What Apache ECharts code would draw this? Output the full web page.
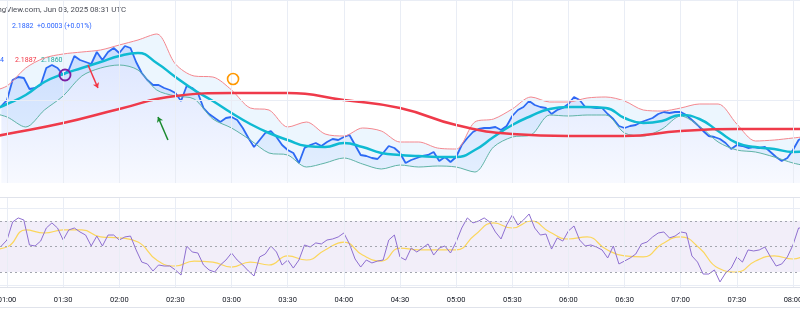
<!DOCTYPE html>
<html><head><meta charset="utf-8">
<script src="https://cdn.jsdelivr.net/npm/echarts@6/dist/echarts.min.js"></script>
<style>html,body{margin:0;padding:0;background:#fff;}#c{width:800px;height:330px;}</style>
</head><body><div id="c"></div>
<script>
// ---- data (minutes after 00:00 UTC, Jun 03 2025) ----
const priceStart = 57, priceStep = 3;
const price = [2.1894,2.1900,2.1920,2.1923,2.1922,2.1911,2.1912,2.1915,2.1932,2.1935,
 2.1932,2.1925,2.1930,2.1944,2.1940,2.1938,2.1936,2.1948,2.1940,2.1948,
 2.1952,2.1947,2.1954,2.1952,2.1938,2.1927,2.1920,2.1915,2.1915,2.1912,
 2.1910,2.1907,2.1899,2.1914,2.1912,2.1907,2.1892,2.1886,2.1882,2.1878,
 2.1882,2.1883,2.1880,2.1872,2.1862,2.1853,2.1860,2.1867,2.1869,2.1863,
 2.1855,2.1850,2.1847,2.1837,2.1852,2.1855,2.1857,2.1854,2.1858,2.1861,
 2.1860,2.1863,2.1865,2.1855,2.1845,2.1844,2.1842,2.1841,2.1847,2.1854,
 2.1852,2.1847,2.1837,2.1840,2.1842,2.1844,2.1845,2.1848,2.1839,2.1843,
 2.1838,2.1843,2.1855,2.1862,2.1868,2.1871,2.1872,2.1872,2.1873,2.1870,
 2.1874,2.1884,2.1890,2.1893,2.1899,2.1895,2.1893,2.1892,2.1886,2.1890,
 2.1892,2.1896,2.1903,2.1900,2.1893,2.1893,2.1892,2.1892,2.1886,2.1881,
 2.1874,2.1872,2.1874,2.1875,2.1878,2.1880,2.1882,2.1886,2.1888,2.1887,
 2.1888,2.1888,2.1885,2.1880,2.1875,2.1869,2.1864,2.1863,2.1861,2.1857,
 2.1851,2.1855,2.1854,2.1852,2.1853,2.1852,2.1853,2.1848,2.1843,2.1839,
 2.1842,2.1850,2.1860,2.1863];
const rsi = [50.4,55.1,69.2,72.4,70.8,51.2,50.4,54.3,64.5,68.5,
 64.5,55.1,63.0,64.5,61.4,59.0,50.4,58.2,50.4,59.0,
 59.0,55.1,57.5,58.2,47.3,37.8,36.3,30.8,35.5,34.7,
 34.7,31.6,27.6,50.4,45.7,44.9,35.5,31.6,30.0,35.5,
 39.4,44.9,39.4,35.5,30.8,26.9,41.8,44.1,50.4,45.7,
 35.5,39.4,33.1,39.4,51.2,49.6,52.8,52.0,55.1,55.9,
 57.5,60.6,52.0,40.2,33.9,39.4,37.1,38.6,39.4,55.1,
 59.0,41.8,39.4,48.8,45.7,48.8,52.0,43.3,48.8,50.4,
 44.9,53.5,64.5,72.4,68.5,70.0,72.4,69.2,61.4,55.9,
 66.9,74.7,66.9,70.8,75.5,64.5,59.0,59.8,48.0,56.7,
 54.3,62.2,66.1,55.1,50.4,51.2,49.6,47.3,41.0,50.4,
 36.3,38.6,41.0,44.1,52.0,53.5,57.5,60.6,61.4,56.7,
 58.2,61.4,60.6,42.6,37.8,28.4,28.4,31.6,22.2,29.2,
 33.1,41.8,37.8,47.3,46.5,47.3,49.6,41.8,34.7,36.3,
 41.8,51.2,64.5,64.5];

const bandStart = 50, bandStep = 10;
const basis = [2.1888,2.1896,2.1905,2.1918,2.1926,2.1932,2.1938,2.1944,2.1947,2.1937,
 2.1923,2.1910,2.1899,2.1887,2.1876,2.1867,2.1860,2.1854,2.1853,2.1857,
 2.1853,2.1847,2.1845,2.1844,2.1843,2.1843,2.1850,2.1863,2.1875,2.1884,
 2.1891,2.1893,2.1893,2.1892,2.1882,2.1877,2.1879,2.1885,2.1881,2.1869,
 2.1857,2.1853,2.1851,2.1848,2.1849];
const upper = [2.1908,2.1914,2.1932,2.1942,2.1946,2.1948,2.1950,2.1955,2.1960,2.1966,
 2.1936,2.1924,2.1923,2.1910,2.1892,2.1890,2.1873,2.1878,2.1866,2.1864,
 2.1872,2.1869,2.1858,2.1858,2.1852,2.1851,2.1878,2.1881,2.1891,2.1903,
 2.1898,2.1898,2.1902,2.1903,2.1899,2.1890,2.1889,2.1892,2.1896,2.1896,
 2.1876,2.1859,2.1860,2.1862,2.1864];
const lower = [2.1888,2.1883,2.1873,2.1890,2.1904,2.1924,2.1932,2.1935,2.1930,2.1910,
 2.1904,2.1901,2.1881,2.1872,2.1860,2.1847,2.1845,2.1833,2.1837,2.1842,
 2.1836,2.1831,2.1835,2.1833,2.1834,2.1833,2.1828,2.1853,2.1863,2.1865,
 2.1885,2.1884,2.1885,2.1885,2.1867,2.1864,2.1871,2.1884,2.1874,2.1858,
 2.1850,2.1848,2.1843,2.1837,2.1833];
const rsiMA = [47.3,49.6,63.0,60.6,63.0,63.0,57.5,56.7,53.5,39.4,
 34.7,38.6,37.8,33.9,37.8,35.5,42.6,39.4,47.3,53.5,
 43.3,38.6,48.8,47.3,47.3,47.3,59.0,68.5,64.5,70.0,
 61.4,55.9,57.5,48.0,42.6,41.8,52.0,57.5,48.8,33.1,
 30.0,38.6,42.6,40.2,47.3];

const maStart = 30, maStep = 30;
const longMA = [2.1855,2.1866,2.1877,2.1891,2.1904,2.1907,2.1907,2.1900,2.1892,2.1875,
 2.1866,2.1864,2.1864,2.1869,2.1871,2.1871,2.1871];

const tickMinutes = [60,90,120,150,180,210,240,270,300,330,360,390,420,450,480];
const priceGridLevels = [2.1986, 2.1935, 2.1885, 2.1835];
const rsiLevels = [70, 50, 30];
const rsiGridLevels = [80, 20];

// drawings on the chart: [minute, price]
const redArrow = [[103.3, 2.1935], [108.6, 2.1912]];
const greenArrow = [[146.0, 2.1860], [140.7, 2.1883]];
const blueTrend = [[54.7, 2.18905], [63.2, 2.1904]];
const purpleCircle = [91.0, 2.1925];
const orangeCircle = [180.8, 2.1921];

// ---- build ----
const BASE = Date.UTC(2025, 5, 3);
const T = m => BASE + m * 60000;
const mMin = 56.26, mMax = 483.76;
const pad = n => (n < 10 ? '0' : '') + n;
const fmt = v => { const m = Math.round(v); return pad(Math.floor(m / 60)) + ':' + pad(m % 60); };

const priceData = price.map((v, i) => [T(priceStart + i * priceStep), v]);
const rsiData = rsi.map((v, i) => [priceStart + i * priceStep, v]);
const bT = i => T(bandStart + i * bandStep);
const basisData = basis.map((v, i) => [bT(i), v]);
const lowerData = lower.map((v, i) => [bT(i), v]);
const widthData = upper.map((v, i) => [bT(i), +(v - lower[i]).toFixed(5)]);
const rsiMAData = rsiMA.map((v, i) => [bandStart + i * bandStep, v]);
const maData = longMA.map((v, i) => [T(maStart + i * maStep), v]);

const gridLineStyle = { color: '#e9edf5', width: 1, type: 'solid' };
const FONT = 'Roboto, sans-serif';

const chart = echarts.init(document.getElementById('c'));
chart.setOption({
  animation: false,
  useUTC: true,
  backgroundColor: '#ffffff',
  grid: [
    { left: 0, right: 0, top: 0, height: 183, outerBoundsMode: 'none', containLabel: false },
    { left: 0, right: 0, top: 198, height: 89, outerBoundsMode: 'none', containLabel: false }
  ],
  xAxis: [
    { type: 'time', gridIndex: 0, min: T(mMin), max: T(mMax), show: false },
    { type: 'value', gridIndex: 1, min: mMin, max: mMax,
      axisLine: { show: true, lineStyle: { color: '#e0e3eb' } },
      axisTick: { show: false }, splitLine: { show: false },
      axisLabel: { customValues: tickMinutes, formatter: fmt, fontSize: 7.5, color: '#131722',
        fontFamily: FONT, margin: 9, hideOverlap: false } }
  ],
  yAxis: [
    { type: 'value', gridIndex: 0, min: 2.1817, max: 2.2000, show: false },
    { type: 'value', gridIndex: 1, min: 18.24, max: 88.04, show: false }
  ],
  series: [
    { name: 'price', type: 'line', xAxisIndex: 0, yAxisIndex: 0, data: priceData,
      symbol: 'none', lineStyle: { color: '#2f66f5', width: 1.8 },
      areaStyle: { origin: 'start', color: new echarts.graphic.LinearGradient(0, 0, 0, 1, [
        { offset: 0, color: 'rgba(41,98,255,0.24)' }, { offset: 1, color: 'rgba(41,98,255,0.05)' }]) },
      markLine: { silent: true, symbol: 'none', label: { show: false }, animation: false,
        data: tickMinutes.map(m => ({ xAxis: T(m), lineStyle: gridLineStyle }))
          .concat(priceGridLevels.map(p => ({ yAxis: p, lineStyle: gridLineStyle }))) },
      z: 2 },
    { name: 'lower', type: 'line', xAxisIndex: 0, yAxisIndex: 0, stack: 'bb', data: lowerData,
      symbol: 'none', smooth: 0.3, lineStyle: { color: '#5fb3a6', width: 1 }, z: 3 },
    { name: 'upper', type: 'line', xAxisIndex: 0, yAxisIndex: 0, stack: 'bb', data: widthData,
      symbol: 'none', smooth: 0.3, lineStyle: { color: '#f4878e', width: 1 },
      areaStyle: { color: 'rgba(33,150,243,0.12)' }, z: 3 },
    { name: 'basis', type: 'line', xAxisIndex: 0, yAxisIndex: 0, data: basisData,
      symbol: 'none', smooth: true, lineStyle: { color: '#0fbad2', width: 2.5 }, z: 4 },
    { name: 'ma', type: 'line', xAxisIndex: 0, yAxisIndex: 0, data: maData,
      symbol: 'none', smooth: true, lineStyle: { color: '#ef3a4a', width: 2.5 }, z: 4,
      markLine: { silent: true, animation: false, label: { show: false }, data: [
        [{ coord: [T(redArrow[0][0]), redArrow[0][1]], symbol: 'none' },
         { coord: [T(redArrow[1][0]), redArrow[1][1]], symbol: 'arrow', symbolSize: 5, lineStyle: { color: '#f23645', width: 1.5, type: 'solid' } }],
        [{ coord: [T(greenArrow[0][0]), greenArrow[0][1]], symbol: 'none' },
         { coord: [T(greenArrow[1][0]), greenArrow[1][1]], symbol: 'arrow', symbolSize: 5, lineStyle: { color: '#1b8a2f', width: 1.5, type: 'solid' } }],
        [{ coord: [T(blueTrend[0][0]), blueTrend[0][1]], symbol: 'none' },
         { coord: [T(blueTrend[1][0]), blueTrend[1][1]], symbol: 'none', lineStyle: { color: '#1e3ddb', width: 1.5, type: 'solid' } }]
      ] },
      markPoint: { silent: true, animation: false, label: { show: false }, data: [
        { coord: [T(purpleCircle[0]), purpleCircle[1]], symbol: 'circle', symbolSize: 11,
          itemStyle: { color: 'rgba(0,0,0,0)', borderColor: '#7b1fa2', borderWidth: 1.8 } },
        { coord: [T(orangeCircle[0]), orangeCircle[1]], symbol: 'circle', symbolSize: 11,
          itemStyle: { color: 'rgba(0,0,0,0)', borderColor: '#ff9800', borderWidth: 1.6 } }
      ] } },
    { name: 'rsi', type: 'line', xAxisIndex: 1, yAxisIndex: 1, data: rsiData,
      symbol: 'none', lineStyle: { color: '#8e6fd0', width: 1 }, z: 3,
      markArea: { silent: true, itemStyle: { color: 'rgba(126,87,194,0.10)' },
        data: [[{ yAxis: rsiLevels[0] }, { yAxis: rsiLevels[2] }]] },
      markLine: { silent: true, symbol: 'none', label: { show: false }, animation: false,
        data: tickMinutes.map(m => ({ xAxis: m, lineStyle: gridLineStyle }))
          .concat(rsiGridLevels.map(v => ({ yAxis: v, lineStyle: gridLineStyle })))
          .concat(rsiLevels.map(v => ({ yAxis: v, lineStyle: { color: '#a3a6af', width: 1, type: [2, 3] } }))) } },
    { name: 'rsiMA', type: 'line', xAxisIndex: 1, yAxisIndex: 1, data: rsiMAData,
      symbol: 'none', smooth: true, lineStyle: { color: '#fbd65c', width: 1.2 }, z: 2 }
  ],
  graphic: [
    { type: 'line', shape: { x1: 0, y1: 197.5, x2: 800, y2: 197.5 }, style: { stroke: '#e0e3eb', lineWidth: 1 }, silent: true },
    { type: 'line', shape: { x1: 0, y1: 307.5, x2: 800, y2: 307.5 }, style: { stroke: '#e0e3eb', lineWidth: 1 }, silent: true },
    { type: 'text', x: 126, y: 10, silent: true, style: { text: 'TradingView.com, Jun 03, 2025 08:31 UTC',
      fill: '#4a4d57', font: '7.8px ' + FONT, textAlign: 'right', textVerticalAlign: 'middle' } },
    { type: 'text', x: 12, y: 26, silent: true, style: { text: '2.1882  +0.0003 (+0.01%)', fill: '#2962ff',
      font: '7px ' + FONT, textAlign: 'left', textVerticalAlign: 'middle' } },
    { type: 'text', x: 0, y: 60, silent: true, style: { text: '4', fill: '#2962ff',
      font: '7px ' + FONT, textAlign: 'left', textVerticalAlign: 'middle' } },
    { type: 'text', x: 15, y: 60, silent: true, style: { text: '2.1887', fill: '#f23645',
      font: '7px ' + FONT, textAlign: 'left', textVerticalAlign: 'middle' } },
    { type: 'text', x: 41, y: 60, silent: true, style: { text: '2.1860', fill: '#22ab94',
      font: '7px ' + FONT, textAlign: 'left', textVerticalAlign: 'middle' } }
  ]
});
</script></body></html>
